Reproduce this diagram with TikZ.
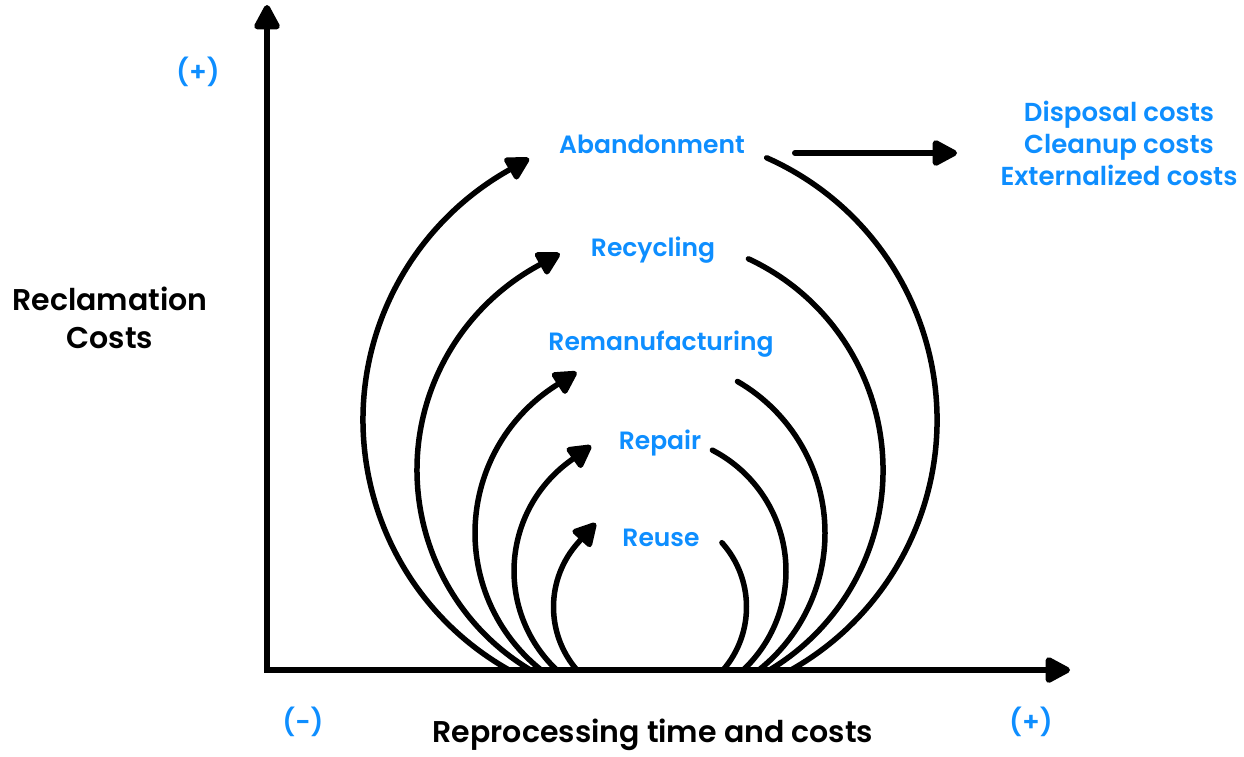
\documentclass[tikz,border=0pt]{standalone}
\usepackage{fontspec}
\setmainfont{Poppins}[BoldFont=* SemiBold]
\usetikzlibrary{arrows.meta}
\definecolor{lblue}{RGB}{14,142,255}
\begin{document}
\begin{tikzpicture}[x=1pt,y=1pt,
  axis/.style={line width=6pt, line join=miter,
    {Triangle[length=28pt,width=28pt,round]}-{Triangle[length=28pt,width=28pt,round]}},
  flow/.style={line width=5.5pt, line cap=round},
  flowarrow/.style={flow, -{Triangle[length=26pt,width=27pt,round]}},
  stage/.style={text=lblue, font=\bfseries\fontsize{25}{30}\selectfont, inner sep=0pt},
  axislabel/.style={text=black, font=\bfseries\fontsize{30}{38}\selectfont, inner sep=0pt, align=center},
  sign/.style={text=lblue, font=\bfseries\fontsize{26.5}{30}\selectfont, inner sep=0pt},
]
\useasboundingbox (0,-756) rectangle (1244,0);

% axes
\coordinate (origin) at (267,-670);
\coordinate (ytip) at (267,-5);
\coordinate (xtip) at (1070,-670);
\draw[axis] (ytip) -- (origin) -- (xtip);

% axis labels
\node[axislabel] (ylabel) at (110,-318) {Reclamation\\Costs};
\node[axislabel] (xlabel) at (653,-735) {Reprocessing time and costs};
\node[sign] (yplus) at (198,-72) {(+)};
\node[sign] (xminus) at (303,-722) {(-)};
\node[sign] (xplus) at (1031,-722) {(+)};

% stage labels
\node[stage] (aband) at (652,-144) {Abandonment};
\node[stage] (recyc) at (653,-250) {Recycling};
\node[stage] (reman) at (661,-344) {Remanufacturing};
\node[stage] (repair) at (660,-443) {Repair};
\node[stage] (reuse) at (661,-538) {Reuse};

% costs of abandonment
\node[stage, align=center, font=\bfseries\fontsize{26}{32}\selectfont] (costs) at (1119,-143)
  {Disposal costs\\Cleanup costs\\Externalized costs};
\coordinate (costfrom) at (795,-153);
\coordinate (costto) at (957,-153);
\draw[line width=6pt, line cap=round, -{Triangle[length=28pt,width=28pt,round]}] (costfrom) -- (costto);

% each loop is a circle around (650, cy): a rising arc on the left with an
% arrow, and a falling arc on the right back down to the axis
% #1 name, #2 cy, #3 radius, #4 bottom angle, #5 left end angle, #6 right start angle
\newcommand{\loopcircle}[6]{%
  \coordinate (#1C) at (650,-#2);
  \coordinate (#1L0) at ([shift={(180-#4:#3)}]#1C);
  \coordinate (#1R0) at ([shift={(#6:#3)}]#1C);
  \draw[flowarrow] (#1L0) arc[start angle=180-#4, end angle=#5, radius=#3] -- ++(#5-90:26);
  \draw[flow] (#1R0) arc[start angle=#6, end angle=#4, radius=#3];
}
\loopcircle{ab}{420}{287}{-60.6}{120}{66}
\loopcircle{rc}{470}{233}{-59.1}{119}{65}
\loopcircle{rm}{533}{175}{-51.5}{123}{60}
\loopcircle{rp}{571}{136}{-46.7}{126}{62.7}
\loopcircle{ru}{607}{96.5}{-40.8}{138}{41.8}
\end{tikzpicture}
\end{document}
